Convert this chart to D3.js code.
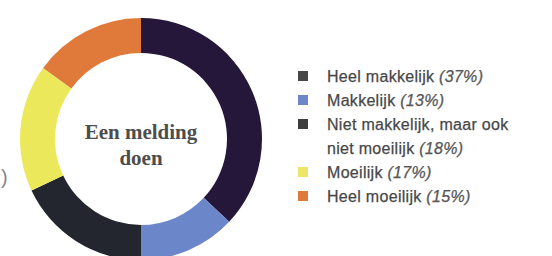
<!DOCTYPE html>
<html>
<head>
<meta charset="utf-8">
<script src="https://cdn.jsdelivr.net/npm/d3@7"></script>
<style>
  html, body { margin: 0; padding: 0; background: #fff; }
  svg { display: block; }
</style>
</head>
<body>
<div id="chart"></div>
<script>
// data
const labels = ["Heel makkelijk", "Makkelijk", "Niet makkelijk, maar ook|niet moeilijk", "Moeilijk", "Heel moeilijk"];
const values = [37, 13, 18, 17, 15];
const ringColors = ["#24173a", "#6b86c9", "#23262f", "#ece85c", "#e07a3a"];
const legendColors = ["#474747", "#6f86c8", "#3d3d3d", "#ede56a", "#e07a3a"];
const centerLines = ["Een melding", "doen"];

const width = 552, height = 256;
const cx = 141, cy = 139;
const outerR = 121, innerR = 86;

const svg = d3.select("#chart").append("svg")
  .attr("width", width)
  .attr("height", height);

const data = values.map((v, i) => ({ label: labels[i], value: v, color: ringColors[i], lc: legendColors[i] }));

const pie = d3.pie().sort(null).value(d => d.value);
const arc = d3.arc().innerRadius(innerR).outerRadius(outerR);

const g = svg.append("g").attr("transform", `translate(${cx},${cy})`);

g.selectAll("path")
  .data(pie(data))
  .enter()
  .append("path")
  .attr("d", arc)
  .attr("fill", d => d.data.color);

// texte au centre
g.selectAll("text.center")
  .data(centerLines)
  .enter()
  .append("text")
  .attr("class", "center")
  .attr("x", 0)
  .attr("y", (d, i) => i * 26)
  .attr("text-anchor", "middle")
  .style("font-family", "'Liberation Serif', serif")
  .style("font-size", "21px")
  .style("font-weight", "bold")
  .style("fill", "#4d4d4d")
  .text(d => d);

// petit reste de scan a gauche
svg.append("text")
  .attr("x", 1)
  .attr("y", 184)
  .style("font-family", "'Liberation Sans', sans-serif")
  .style("font-size", "20px")
  .style("fill", "#888")
  .text(")");

// legende
const legendX = 298, legendY0 = 76, rowH = 24;
let row = 0;
data.forEach((d, i) => {
  const lines = d.label.split("|");
  const y = legendY0 + row * rowH;
  svg.append("rect")
    .attr("x", legendX)
    .attr("y", y - 5)
    .attr("width", 10)
    .attr("height", 10)
    .attr("fill", d.lc);

  lines.forEach((ln, j) => {
    const t = svg.append("text")
      .attr("x", legendX + 29)
      .attr("y", y + j * rowH)
      .attr("dominant-baseline", "central")
      .style("font-family", "'Liberation Sans', Arial, sans-serif")
      .style("font-size", "16px")
      .style("letter-spacing", "0.3px")
      .style("fill", "#474747")
      .style("stroke", "#474747")
      .style("stroke-width", "0.25px");
    t.append("tspan").text(ln);
    if (j === lines.length - 1) {
      t.append("tspan")
        .style("font-style", "italic")
        .style("fill", "#5a5a5a")
        .text(` (${d.value}%)`);
    }
  });
  row += lines.length;
});
</script>
</body>
</html>
